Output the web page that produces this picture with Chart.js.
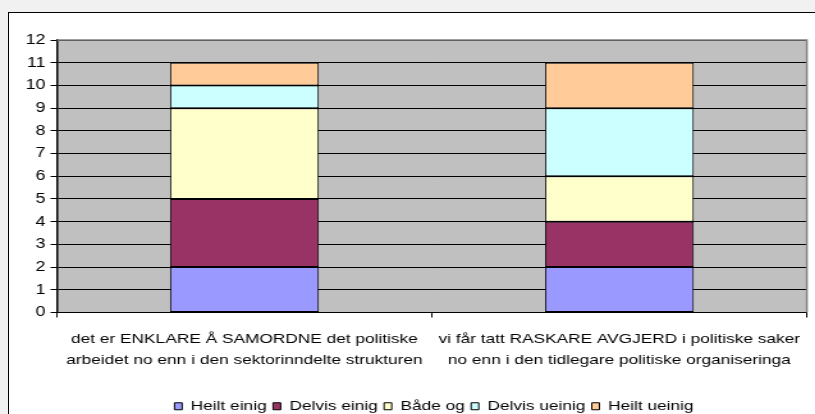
<!DOCTYPE html>
<html>
<head>
<meta charset="utf-8">
<script src="https://cdn.jsdelivr.net/npm/chart.js@4.4.0/dist/chart.umd.min.js"></script>
<style>
  html, body { margin: 0; padding: 0; width: 815px; height: 414px; overflow: hidden; background: #f1f1f1; }
  #frame { position: absolute; left: 8px; top: 12px; width: 830px; height: 430px; background: #fff; border: 1px solid #000; }
  /* the reference chart is stretched sideways, so draw narrow and widen */
  #wrap { position: absolute; left: 0; top: 0; width: 637px; height: 414px; transform: scaleX(1.2795); transform-origin: 0 0; }
</style>
</head>
<body>
<div id="frame"></div>
<div id="wrap"><canvas id="c"></canvas></div>
<script>
const categories = [
  ["det er ENKLARE Å SAMORDNE det politiske", "arbeidet no enn i den sektorinndelte strukturen"],
  ["vi får tatt RASKARE AVGJERD i politiske saker", "no enn i den tidlegare politiske organiseringa"],
];
const seriesNames = ["Heilt einig", "Delvis einig", "Både og", "Delvis ueinig", "Heilt ueinig"];
const heiltEinig = [2, 2];
const delvisEinig = [3, 2];
const badeOg = [4, 2];
const delvisUeinig = [1, 3];
const heiltUeinig = [1, 2];
const seriesColors = ["#9999ff", "#993366", "#ffffcc", "#ccffff", "#ffcc99"];
const yMin = 0;
const yMax = 12;
const yStep = 1;

const font = "'Liberation Sans', Arial, sans-serif";

// grey plot area with a darker frame, like the old Excel default
const plotBg = {
  id: "plotBg",
  afterLayout(chart) {
    // legend in the original sits a bit right of centre
    if (chart.legend) {
      chart.legend.left += 22;
      chart.legend.right += 22;
    }
  },
  beforeDraw(chart) {
    const a = chart.chartArea;
    const ctx = chart.ctx;
    ctx.save();
    ctx.fillStyle = "#c0c0c0";
    ctx.fillRect(a.left, a.top, a.right - a.left, a.bottom - a.top);
    ctx.restore();
  },
  beforeDatasetsDraw(chart) {
    const a = chart.chartArea;
    const ctx = chart.ctx;
    ctx.save();
    ctx.strokeStyle = "#808080";
    ctx.lineWidth = 1.5;
    ctx.beginPath();
    ctx.moveTo(a.left, a.top);
    ctx.lineTo(a.right, a.top);
    ctx.lineTo(a.right, a.bottom);
    ctx.stroke();
    ctx.restore();
  },
};

const allSeries = [heiltEinig, delvisEinig, badeOg, delvisUeinig, heiltUeinig];
const datasets = allSeries.map((vals, i) => ({
  label: seriesNames[i],
  data: vals,
  backgroundColor: seriesColors[i],
  borderColor: "#000",
  borderWidth: 1,
  borderSkipped: false,
  categoryPercentage: 1,
  barPercentage: 0.397,
}));

new Chart(document.getElementById("c"), {
  type: "bar",
  data: { labels: categories, datasets },
  plugins: [plotBg],
  options: {
    responsive: true,
    maintainAspectRatio: false,
    animation: false,
    layout: { padding: { top: 40, right: 2.6, left: 0, bottom: -9 } },
    plugins: {
      tooltip: { enabled: false },
      legend: {
        position: "bottom",
        labels: {
          color: "#000",
          font: { family: font, size: 13.5 },
          boxWidth: 6,
          boxHeight: 7,
          padding: 5,
        },
      },
    },
    scales: {
      x: {
        stacked: true,
        grid: { display: true, drawOnChartArea: false, color: "#000", tickLength: 5, offset: true },
        border: { color: "#000", width: 1 },
        ticks: {
          color: "#000",
          font: { family: font, size: 13.5, lineHeight: 1.556 },
          maxRotation: 0,
          autoSkip: false,
          padding: 11,
        },
        afterFit(scale) { scale.height = 82; },
      },
      y: {
        stacked: true,
        min: yMin,
        max: yMax,
        grid: { color: "#000", lineWidth: 1, tickLength: 5, tickColor: "#000" },
        border: { color: "#000", width: 1.5 },
        ticks: {
          stepSize: yStep,
          color: "#000",
          font: { family: font, size: 14 },
          padding: 4,
        },
        afterFit(scale) { scale.width = 44.5; },
      },
    },
  },
});
</script>
</body>
</html>
